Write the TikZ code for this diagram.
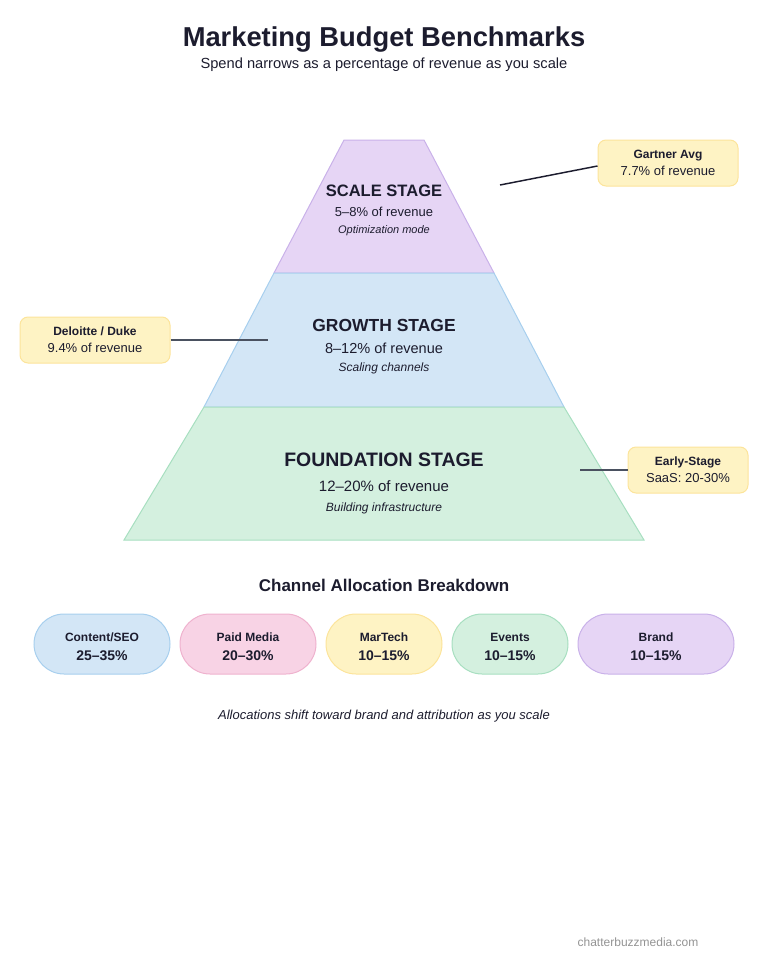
\documentclass[tikz,border=0pt]{standalone}
\usepackage{fontspec}
\setmainfont{Liberation Sans}
\usepackage{tikz}
\tikzset{every picture/.style={line width=0.75pt}}

\definecolor{ink}{HTML}{1C1C2E}
\definecolor{scalefill}{HTML}{E6D5F5}
\definecolor{scaleline}{HTML}{C9B1E9}
\definecolor{growfill}{HTML}{D3E6F6}
\definecolor{growline}{HTML}{A7CFEE}
\definecolor{foundfill}{HTML}{D4F0DF}
\definecolor{foundline}{HTML}{A7DFC0}
\definecolor{notefill}{HTML}{FEF3C4}
\definecolor{noteline}{HTML}{FCE49B}
\definecolor{paidfill}{HTML}{F8D3E5}
\definecolor{paidline}{HTML}{EFB2CE}
\definecolor{leadgray}{HTML}{4A5160}

\tikzset{
  callout/.style={draw=noteline, fill=notefill, rounded corners=6pt, minimum height=34.5pt,
    inner sep=0pt, align=center, text=ink, font=\fontsize{9.75}{13}\selectfont},
  pill/.style={rounded corners=22.5pt, minimum height=45pt, inner sep=0pt, align=center,
    text=ink, font=\fontsize{9}{14.25}\selectfont\bfseries},
  leader/.style={draw=leadgray, line width=1.1pt},
  stagename/.style={text=ink, font=\bfseries},
  stagepct/.style={text=ink},
  stagenote/.style={text=ink, font=\itshape}
}

\begin{document}
\begin{tikzpicture}[x=0.75pt,y=0.75pt,yscale=-1,xscale=1]
\useasboundingbox (0,0) rectangle (768,960); %page is 768 x 960

% Title
\draw (384,39) node [text=ink, font=\fontsize{20.5}{24}\selectfont\bfseries] (title) {Marketing Budget Benchmarks};
\draw (384,65) node [text=ink, font=\fontsize{11}{14}\selectfont] (subtitle) {Spend narrows as a percentage of revenue as you scale};

%Shape: Trapezoid scale
\draw [draw=scaleline, fill=scalefill] (344,140) -- (424,140) -- (494,273) -- (274,273) -- cycle ;
%Shape: Trapezoid growth
\draw [draw=growline, fill=growfill] (274,273) -- (494,273) -- (564,407) -- (204,407) -- cycle ;
%Shape: Trapezoid foundation
\draw [draw=foundline, fill=foundfill] (204,407) -- (564,407) -- (644,540) -- (124,540) -- cycle ;

% Stage texts
\draw (384,191) node [stagename, font=\fontsize{12.4}{15}\selectfont\bfseries] (scaleT) {SCALE STAGE};
\draw (384,212) node [stagepct, font=\fontsize{9.75}{12}\selectfont] (scaleP) {5--8\% of revenue};
\draw (384,231) node [stagenote, font=\fontsize{8.25}{10}\selectfont\itshape] (scaleN) {Optimization mode};

\draw (384,325) node [stagename, font=\fontsize{13.1}{16}\selectfont\bfseries] (growT) {GROWTH STAGE};
\draw (384,348) node [stagepct, font=\fontsize{10.9}{13}\selectfont] (growP) {8--12\% of revenue};
\draw (384,368) node [stagenote, font=\fontsize{9}{11}\selectfont\itshape] (growN) {Scaling channels};

\draw (384,460) node [stagename, font=\fontsize{14.6}{17}\selectfont\bfseries] (foundT) {FOUNDATION STAGE};
\draw (384,486) node [stagepct, font=\fontsize{11.25}{14}\selectfont] (foundP) {12--20\% of revenue};
\draw (384,508) node [stagenote, font=\fontsize{9}{11}\selectfont\itshape] (foundN) {Building infrastructure};

% Callouts
\draw (668,163) node [callout, minimum width=105pt] (gartner) {\fontsize{9}{13}\selectfont\bfseries Gartner Avg\\7.7\% of revenue};
\draw (95,340) node [callout, minimum width=112.5pt] (deloitte) {\fontsize{9}{13}\selectfont\bfseries Deloitte / Duke\\9.4\% of revenue};
\draw (688,470) node [callout, minimum width=90pt] (early) {\fontsize{9}{13}\selectfont\bfseries Early-Stage\\SaaS: 20-30\%};

\coordinate (gartnerEnd) at (500,185);
\coordinate (deloitteEnd) at (268,340);
\coordinate (earlyEnd) at (580,470);
\draw [leader, draw=ink] ([yshift=2.25pt]gartner.west) -- (gartnerEnd) ;
\draw [leader] (deloitte.east) -- (deloitteEnd) ;
\draw [leader] (early.west) -- (earlyEnd) ;

% Channel breakdown
\draw (384,585) node [text=ink, font=\fontsize{12.75}{15}\selectfont\bfseries] (chanT) {Channel Allocation Breakdown};

\draw (102,644) node [pill, draw=growline, fill=growfill, minimum width=102pt] (content) {\strut Content/SEO\\{\fontsize{10.5}{14.25}\selectfont 25--35\%}};
\draw (248,644) node [pill, draw=paidline, fill=paidfill, minimum width=102pt] (paid) {\strut Paid Media\\{\fontsize{10.5}{14.25}\selectfont 20--30\%}};
\draw (384,644) node [pill, draw=noteline, fill=notefill, minimum width=87pt] (martech) {\strut MarTech\\{\fontsize{10.5}{14.25}\selectfont 10--15\%}};
\draw (510,644) node [pill, draw=foundline, fill=foundfill, minimum width=87pt] (events) {\strut Events\\{\fontsize{10.5}{14.25}\selectfont 10--15\%}};
\draw (656,644) node [pill, draw=scaleline, fill=scalefill, minimum width=117pt] (brand) {\strut Brand\\{\fontsize{10.5}{14.25}\selectfont 10--15\%}};

% Footnote
\draw (384,716) node [text=ink, font=\fontsize{9.75}{12}\selectfont\itshape] (foot) {Allocations shift toward brand and attribution as you scale};
\draw (638,942) node [text=gray!85, font=\fontsize{9}{11}\selectfont] (source) {chatterbuzzmedia.com};

\end{tikzpicture}
\end{document}
